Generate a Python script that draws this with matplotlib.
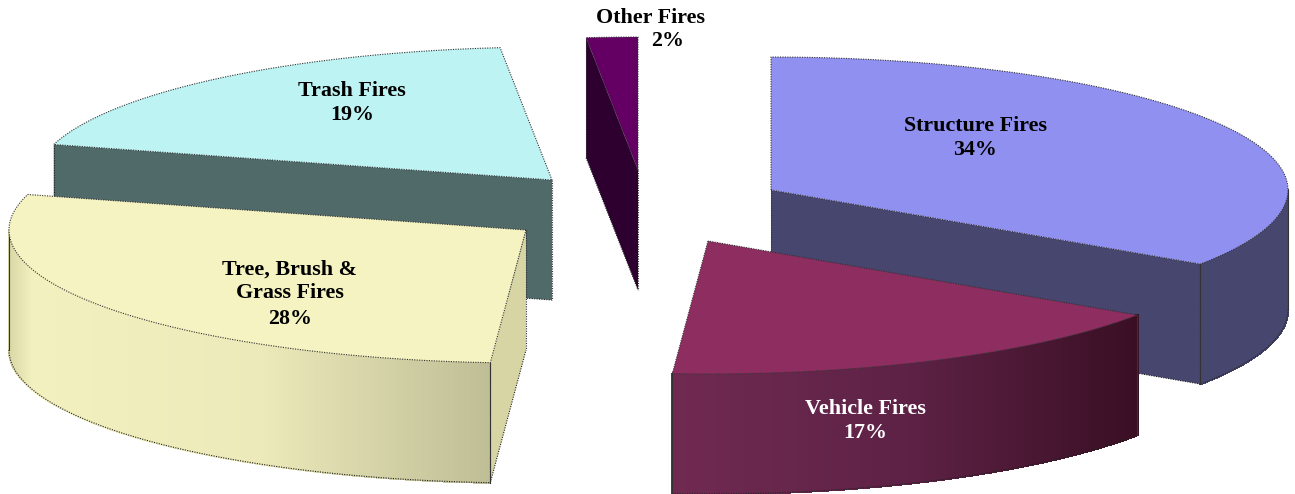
import numpy as np
from matplotlib import pyplot as plt
from matplotlib.collections import PolyCollection
from matplotlib.colors import LinearSegmentedColormap
from matplotlib.patches import Polygon

# shares, labels are the printed (rounded) ones
categories = ['Structure Fires', 'Vehicle Fires', 'Tree, Brush &\nGrass Fires', 'Trash Fires', 'Other Fires']
shares = [34.4, 16.7, 28.2, 19.1, 1.6]
percent_labels = ['34%', '17%', '28%', '19%', '2%']

top_colors = ['#9090F0', '#8D2D60', '#F4F3C1', '#BDF3F3', '#640064']
cut_colors = ['#46466F', '#46466F', '#D6D5A3', '#506A6A', '#2D0030']
rim_stops = [['#46466F', '#46466F'],
             ['#702A52', '#5E2246', '#3A0F24'],
             ['#D8D6A6', '#F2F0BE', '#ECEABA', '#BFBE96'],
             ['#506A6A', '#506A6A'],
             ['#2D0030', '#2D0030']]

# exploded apex of every wedge, in picture pixels
apex = [(771, 190), (708, 241), (526, 230), (552, 180), (638, 170)]
draw_order = [4, 3, 0, 2, 1]
RX, RY, DEPTH = 517, 133, 120
EDGE = (0, (1, 1.2))


def ell(center, t):
	return center[0] + RX*np.cos(t), center[1] - RY*np.sin(t)


fig = plt.figure(figsize = (12.95, 4.94), dpi = 100)
ax = fig.add_axes([0, 0, 1, 1])
ax.set_xlim(0, 1295)
ax.set_ylim(494, 0)
ax.axis('off')

ends = 90 - 3.6*np.cumsum(shares)
starts = np.r_[90, ends[:-1]]

for n, i in enumerate(draw_order):
	c = apex[i]
	z = 2*n + 1
	t1, t2 = np.radians(starts[i]), np.radians(ends[i])
	tip1, tip2 = ell(c, t1), ell(c, t2)

	# straight cut face that looks to the viewer: none for the vehicle wedge
	if i != 1:
		tip = tip2 if i == 0 else tip1
		pts = [c, tip, (tip[0], tip[1] + DEPTH), (c[0], c[1] + DEPTH)]
		ax.add_patch(Polygon(pts, fc = cut_colors[i], ec = 'none', zorder = z))
		ax.plot([tip[0], c[0]], [tip[1] + DEPTH, c[1] + DEPTH], color = '#222222', lw = 0.8,
				ls = EDGE, zorder = z + 0.1)
		ax.plot([tip[0], tip[0]], [tip[1], tip[1] + DEPTH], color = '#222222', lw = 0.8,
				ls = EDGE, zorder = z + 0.1)
		ax.plot([c[0], c[0]], [c[1], c[1] + DEPTH], color = '#333333', lw = 0.8,
				ls = EDGE, zorder = z + 0.1)

	# curved rim, only the part on the front half of the ellipse
	lo, hi = max(t2, np.radians(-180)), min(t1, 0.0)
	if hi > lo:
		tt = np.linspace(lo, hi, 400)
		xs, ys = ell(c, tt)
		strips = [[(xs[k], ys[k]), (xs[k + 1], ys[k + 1]),
				   (xs[k + 1], ys[k + 1] + DEPTH), (xs[k], ys[k] + DEPTH)] for k in range(len(tt) - 1)]
		cmap = LinearSegmentedColormap.from_list('rim%d' % i, rim_stops[i])
		shade = (xs[:-1] - xs.min())/(xs.max() - xs.min())
		if i == 2:
			shade = np.interp(shade, [0, 0.05, 1], [0, 0.33, 1])
		rim = PolyCollection(strips, array = shade, cmap = cmap, edgecolors = 'face',
							 linewidths = 1, antialiaseds = False, zorder = z)
		ax.add_collection(rim)
		ax.plot(xs, ys + DEPTH, color = '#222222', lw = 0.8, ls = EDGE, zorder = z + 0.2)
		ax.plot([xs[0], xs[0]], [ys[0], ys[0] + DEPTH], color = '#333333', lw = 0.8, zorder = z + 0.2)
		ax.plot([xs[-1], xs[-1]], [ys[-1], ys[-1] + DEPTH], color = '#333333', lw = 0.8, zorder = z + 0.2)

	# top surface
	tt = np.linspace(t2, t1, 200)
	xs, ys = ell(c, tt)
	ax.add_patch(Polygon(np.r_[[c], np.c_[xs, ys]], fc = top_colors[i], ec = 'none', zorder = z + 0.5))
	outline = np.r_[[c], np.c_[xs, ys], [c]]
	ax.plot(outline[:, 0], outline[:, 1], color = '#333333', lw = 0.8, ls = EDGE, zorder = z + 0.6)

font = dict(family = 'Liberation Serif', fontweight = 'bold', fontsize = 15.8,
			ha = 'center', va = 'center', zorder = 20)
name_pos = [(975, 126), (865, 409), (290, 281), (352, 91), (650, 18)]
pct_pos = [(975, 150), (865, 433), (290, 319), (352, 115), (668, 41)]
text_colors = ['black', 'white', 'black', 'black', 'black']

for i in range(len(categories)):
	ax.text(name_pos[i][0], name_pos[i][1], categories[i], color = text_colors[i], linespacing = 1.2, **font)
	ax.text(pct_pos[i][0], pct_pos[i][1], percent_labels[i], color = text_colors[i], **font)

plt.savefig('out.png', dpi = 100)
